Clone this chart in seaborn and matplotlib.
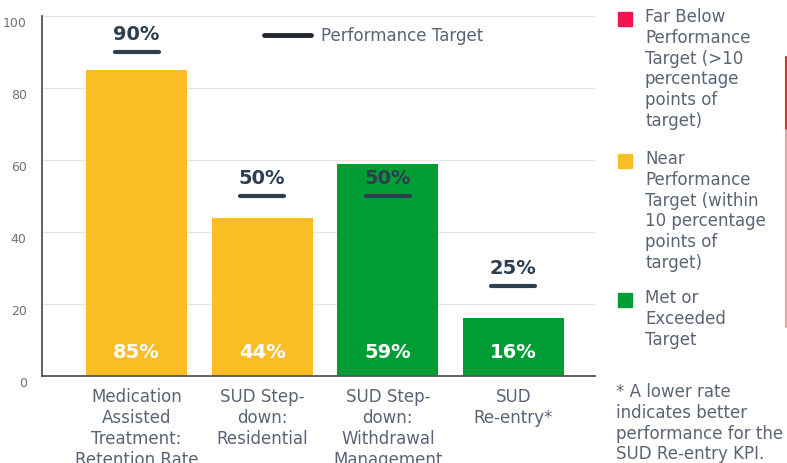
import matplotlib
matplotlib.use("Agg")
import matplotlib.pyplot as plt
import seaborn as sns
from matplotlib.lines import Line2D
from matplotlib.patches import Rectangle
from matplotlib.transforms import ScaledTranslation

categories = [
    "Medication\nAssisted\nTreatment:\nRetention Rate",
    "SUD Step-\ndown:\nResidential",
    "SUD Step-\ndown:\nWithdrawal\nManagement",
    "SUD\nRe-entry*",
]
actual = [85, 44, 59, 16]
targets = [90, 50, 50, 25]
status = ["near", "near", "met", "met"]

status_colors = {"far": "#f2154f", "near": "#fbbd26", "met": "#009d34"}
legend_labels = {
    "far": "Far Below\nPerformance\nTarget (>10\npercentage\npoints of\ntarget)",
    "near": "Near\nPerformance\nTarget (within\n10 percentage\npoints of\ntarget)",
    "met": "Met or\nExceeded\nTarget",
}
footnote = "* A lower rate\nindicates better\nperformance for the\nSUD Re-entry KPI."

TEXT = "#5b6475"
NAVY = "#2d3e50"

sns.set_style("white")
plt.rcParams["font.family"] = ["DejaVu Sans"]

W, H = 787, 463
fig = plt.figure(figsize=(W / 100, H / 100), dpi=100)
ax = fig.add_axes([42 / W, 1 - 376 / H, (595 - 42) / W, (376 - 16) / H])

ax.yaxis.grid(True, color="#e6e6e6", linewidth=1)
ax.set_axisbelow(True)

sns.barplot(
    x=list(range(len(categories))), y=actual,
    hue=list(range(len(categories))),
    palette=[status_colors[s] for s in status],
    legend=False, width=0.805, saturation=1, linewidth=0, ax=ax,
)

for i, (v, t) in enumerate(zip(actual, targets)):
    ax.plot([i - 0.175, i + 0.175], [t, t], color=NAVY, lw=3,
            solid_capstyle="round", zorder=4)
    ax.text(i, t + 2.2, f"{t}%", ha="center", va="bottom",
            fontsize=14, fontweight="bold", color=NAVY)
    ax.text(i, 6.5, f"{v}%", ha="center", va="center",
            fontsize=14, fontweight="bold", color="white")

ax.set_xlim(-0.753, 3.65)
ax.set_ylim(0, 100)
ax.set_yticks([0, 20, 40, 60, 80, 100])
ax.set_xticks(range(len(categories)))
ax.set_xticklabels(categories, fontsize=12, color=TEXT, linespacing=1.2)
ax.tick_params(axis="x", length=0, pad=9)
ax.tick_params(axis="y", length=0, pad=11, labelsize=9, labelcolor="#707070")
for lab in ax.get_yticklabels():
    lab.set_transform(lab.get_transform() + ScaledTranslation(0, -4 / 72, fig.dpi_scale_trans))

sns.despine(ax=ax, top=True, right=True)
for side in ["left", "bottom"]:
    ax.spines[side].set_color("#555555")
    ax.spines[side].set_linewidth(1.3)
ax.set_xlabel("")
ax.set_ylabel("")

# performance target legend
ax.legend(
    handles=[Line2D([], [], color="#23272d", lw=3.5, solid_capstyle="round")],
    labels=["Performance Target"], loc="center left",
    bbox_to_anchor=((249 - 42) / (595 - 42), 1 - (36 - 16) / 360),
    frameon=False, handlelength=2.8, handletextpad=0.6,
    prop={"size": 12}, labelcolor=TEXT,
)

# status legend on the right
def fx(px):
    return px / W

def fy(py):
    return 1 - py / H

for key, top in [("far", 12), ("near", 154), ("met", 293)]:
    fig.add_artist(Rectangle((fx(618), fy(top + 14)), 14 / W, 14 / H,
                             color=status_colors[key], transform=fig.transFigure))
    fig.text(fx(645), fy(top - 4), legend_labels[key], ha="left", va="top",
             fontsize=12, color=TEXT, linespacing=1.2)

fig.text(fx(616), fy(383), footnote, ha="left", va="top",
         fontsize=12, color=TEXT, linespacing=1.2)

# cropped divider on the right edge
fig.add_artist(Line2D([fx(786), fx(786)], [fy(57), fy(130)], color="#d42c3c",
                      lw=1.5, transform=fig.transFigure))
fig.add_artist(Line2D([fx(786), fx(786)], [fy(130), fy(327)], color="#f2a0a8",
                      lw=1.5, transform=fig.transFigure))

fig.savefig("out.png", dpi=100)
